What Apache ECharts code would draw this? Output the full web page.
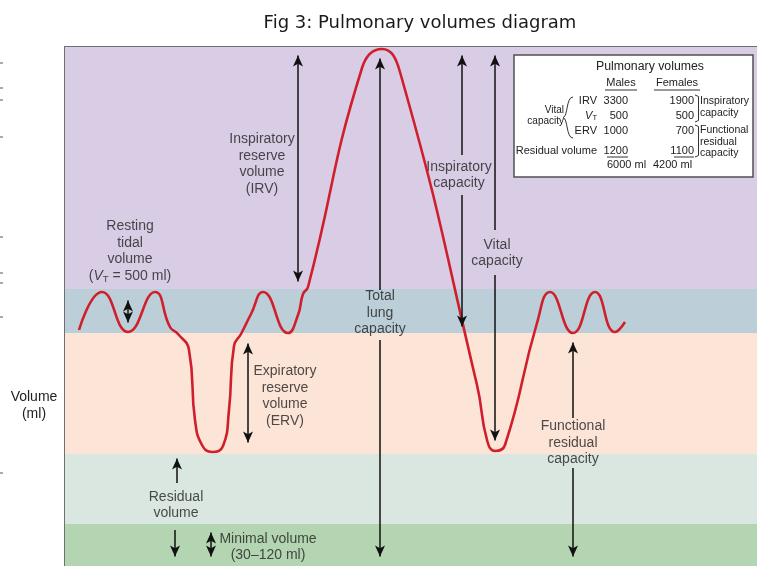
<!DOCTYPE html>
<html lang="en">
<head>
    <meta charset="UTF-8">
    <title>Pulmonary volumes diagram</title>
    <style>
        * {
            margin: 0;
            padding: 0;
            box-sizing: border-box;
        }

        html,
        body {
            width: 100%;
            height: 100%;
            background: #fff;
        }

        .box {
            width: 757px;
            height: 566px;
        }
    </style>
</head>
<body>
    <div class="box"></div>
</body>
<script src="https://cdn.jsdelivr.net/npm/echarts@6.0.0/dist/echarts.min.js"></script>
<script>
    // x = time (diagram units), y = volume level (diagram units, not to scale)

    // breathing trace
    const traceTime = [1.4, 3.7, 6.3, 9.0, 10.5, 11.3, 12.4, 13.0, 13.7, 14.7, 15.8, 16.4, 16.9, 17.6, 18.6, 19.8, 22.3, 23.3, 23.8, 24.3, 29.7, 31.7, 33.5, 41.2, 42.2, 43.0, 44.0, 47.2, 48.5, 50.8, 53.0, 55.0, 56.0];
    const traceLevel = [47.2, 54.8, 46.8, 54.8, 47.8, 46.4, 43.2, 29.2, 24.2, 22.8, 24.0, 31.2, 44.0, 46.4, 50.4, 54.8, 46.6, 50.2, 54.4, 55.8, 99.6, 103.4, 98.8, 36.2, 25.2, 23.0, 24.2, 48.6, 54.8, 46.6, 54.8, 46.8, 48.8];

    // horizontal bands
    const bandNames = ['Minimal volume', 'Residual volume', 'Expiratory reserve volume', 'Tidal volume', 'Inspiratory reserve volume'];
    const bandBottom = [0, 8.4, 22.4, 46.6, 55.4];
    const bandTop = [8.4, 22.4, 46.6, 55.4, 103.8];

    // vertical arrows
    const arrowTime = [6.3, 23.3, 31.5, 31.5, 39.7, 39.7, 43.0, 43.0, 18.3, 11.2, 11.0, 14.6, 50.8, 50.8];
    const arrowFrom = [47.6, 55.8, 55.2, 0.8, 82.2, 46.8, 67.2, 24.0, 23.6, 16.6, 0.8, 0.8, 29.6, 0.8];
    const arrowTo = [54.2, 103.2, 102.6, 45.2, 103.2, 74.2, 103.2, 58.2, 45.6, 22.6, 7.2, 7.8, 45.8, 19.6];
    const arrowHeads = ['both', 'both', 'top', 'bottom', 'top', 'bottom', 'top', 'bottom', 'both', 'top', 'bottom', 'both', 'top', 'bottom'];

    // annotations
    const noteText = [
        'Inspiratory\nreserve\nvolume\n(IRV)',
        'Resting\ntidal\nvolume\n({it|V}{sub|T} = 500 ml)',
        'Inspiratory\ncapacity',
        'Vital\ncapacity',
        'Total\nlung\ncapacity',
        'Expiratory\nreserve\nvolume\n(ERV)',
        'Functional\nresidual\ncapacity',
        'Residual\nvolume',
        'Minimal volume\n(30–120 ml)'
    ];
    const noteTime = [19.7, 6.5, 39.4, 43.2, 31.5, 22.0, 50.8, 11.1, 20.3];
    const noteLevel = [80.4, 63.0, 78.2, 62.6, 50.6, 34.0, 24.6, 12.2, 3.8];

    // table
    const tableRows = ['IRV', '{it|V}{sub|T}', 'ERV', 'Residual volume'];
    const maleVolumes = [3300, 500, 1000, 1200];
    const femaleVolumes = [1900, 500, 700, 1100];

    const font = 'Liberation Sans, Arial, sans-serif';
    const ink = '#222';
    const bandColors = ['#b4d5b1', '#dae7e0', '#fce4d7', '#bccfd9', '#d9cde5'];

    const subRich = {
        it: { fontStyle: 'italic', fontSize: 11, fontFamily: font, fill: ink },
        sub: { fontSize: 7.5, lineHeight: 7, verticalAlign: 'bottom', fontFamily: font, fill: ink }
    };

    let headInset = 1.1; // half an arrowhead
    let arrowLines = arrowTime.map(function (t, i) {
        let h = arrowHeads[i];
        let low = h === 'both' || h === 'bottom';
        let high = h === 'both' || h === 'top';
        return [{
            coord: [t, arrowFrom[i] + (low ? headInset : 0)],
            symbol: low ? 'arrow' : 'none'
        }, {
            coord: [t, arrowTo[i] - (high ? headInset : 0)],
            symbol: high ? 'arrow' : 'none'
        }];
    });

    let bandAreas = bandNames.map(function (n, i) {
        return [{
            name: n,
            yAxis: bandBottom[i],
            itemStyle: { color: bandColors[i], opacity: 1 }
        }, {
            yAxis: bandTop[i]
        }];
    });

    // table graphic
    function txt(text, x, y, align, size, extra) {
        return {
            type: 'text',
            x: x,
            y: y,
            z: 100,
            silent: true,
            style: Object.assign({
                text: text,
                fill: ink,
                fontSize: size,
                fontFamily: font,
                align: align,
                verticalAlign: 'middle',
                textAlign: align,
                textVerticalAlign: 'middle'
            }, extra || {})
        };
    }

    function seg(points, color) {
        return {
            type: 'polyline',
            z: 100,
            silent: true,
            shape: { points: points },
            style: { stroke: color || '#333', lineWidth: 1, fill: null }
        };
    }

    const rowY = [101, 116, 131, 151];
    let table = [{
        type: 'rect',
        z: 99,
        shape: { x: 514, y: 55, width: 239, height: 122 },
        style: { fill: '#fff', stroke: '#505050', lineWidth: 1.5 }
    },
    txt('Pulmonary volumes', 650, 67, 'center', 12.3),
    txt('Males', 621, 83, 'center', 11),
    txt('Females', 677, 83, 'center', 11),
    seg([[605, 90], [637, 90]]),
    seg([[654, 90], [700, 90]])
    ];
    tableRows.forEach(function (r, i) {
        table.push(txt(r, 597, rowY[i], 'right', 11, { rich: subRich }));
        table.push(txt(String(maleVolumes[i]), 628, rowY[i], 'right', 11));
        table.push(txt(String(femaleVolumes[i]), 694, rowY[i], 'right', 11));
    });
    let last = rowY[rowY.length - 1] + 6;
    table.push(seg([[607, last], [628, last]]));
    table.push(seg([[674, last], [694, last]]));
    let sum = function (a) { return a.reduce(function (s, v) { return s + v; }, 0); };
    table.push(txt(sum(maleVolumes) + ' ml', 607, 165, 'left', 11));
    table.push(txt(sum(femaleVolumes) + ' ml', 653, 165, 'left', 11));
    table.push(txt('Vital\ncapacity', 564, 116, 'right', 10, { lineHeight: 11 }));
    table.push({
        type: 'bezierCurve', silent: true, z: 100,
        shape: { x1: 573, y1: 97, cpx1: 566, cpy1: 97, cpx2: 568, cpy2: 117, x2: 563, y2: 117.5 },
        style: { stroke: '#333', lineWidth: 1, fill: null }
    });
    table.push({
        type: 'bezierCurve', silent: true, z: 100,
        shape: { x1: 563, y1: 117.5, cpx1: 568, cpy1: 118, cpx2: 566, cpy2: 138, x2: 573, y2: 138 },
        style: { stroke: '#333', lineWidth: 1, fill: null }
    });
    table.push(seg([[695, 95], [698.5, 96.5], [698.5, 120.5], [695, 122]]));
    table.push(seg([[695, 125], [698.5, 126.5], [698.5, 155.5], [695, 157]]));
    table.push(txt('Inspiratory\ncapacity', 700, 107, 'left', 10.5, { lineHeight: 11.5 }));
    table.push(txt('Functional\nresidual\ncapacity', 700, 142, 'left', 10.5, { lineHeight: 11.5 }));

    // scan marks along the left edge of the source picture
    [63, 88, 100, 137, 237, 273, 283, 317, 473].forEach(function (y) {
        table.push(seg([[0, y], [3, y]], '#555'));
    });

    let chart = echarts.init(document.querySelector('.box'));
    let option = {
        animation: false,
        backgroundColor: '#fff',
        title: [{
            text: 'Fig 3: Pulmonary volumes diagram',
            left: 415,
            top: 9,
            textAlign: 'center',
            textStyle: { fontSize: 18, fontWeight: 'normal', color: '#1a1a1a', fontFamily: 'DejaVu Sans' }
        }, {
            text: 'Volume\n(ml)',
            left: 29,
            top: 384,
            textAlign: 'center',
            textStyle: { fontSize: 14, fontWeight: 'normal', color: ink, lineHeight: 17, fontFamily: font }
        }],
        grid: { left: 65, right: 0, top: 47, bottom: 0 },
        xAxis: {
            type: 'value',
            min: 0,
            max: 69.2,
            position: 'top',
            axisLine: { show: true, onZero: false, lineStyle: { color: '#707070', width: 2 } },
            axisTick: { show: false },
            axisLabel: { show: false },
            splitLine: { show: false }
        },
        yAxis: {
            type: 'value',
            min: 0,
            max: 103.8,
            axisLine: { show: true, lineStyle: { color: '#707070', width: 2 } },
            axisTick: { show: false },
            axisLabel: { show: false },
            splitLine: { show: false }
        },
        graphic: table,
        series: [{
            type: 'line',
            data: [],
            silent: true,
            markArea: {
                silent: true,
                label: { show: false },
                data: bandAreas
            }
        }, {
            type: 'line',
            data: [],
            silent: true,
            markLine: {
                silent: true,
                symbolSize: [7.5, 11],
                label: { show: false },
                lineStyle: { color: '#111', width: 1.5, type: 'solid' },
                itemStyle: { color: '#111' },
                data: arrowLines
            }
        }, {
            type: 'line',
            data: traceTime.map(function (t, i) { return [t, traceLevel[i]]; }),
            smooth: 0.5,
            showSymbol: false,
            silent: true,
            lineStyle: { color: '#d01f2c', width: 2.6 }
        }, {
            type: 'scatter',
            symbolSize: 0,
            silent: true,
            data: noteTime.map(function (t, i) { return [t, noteLevel[i], noteText[i]]; }),
            label: {
                show: true,
                position: 'inside',
                formatter: function (p) { return p.value[2]; },
                color: ink,
                fontSize: 14,
                lineHeight: 16.5,
                fontFamily: font,
                rich: {
                    it: { fontStyle: 'italic', fontSize: 14, color: ink, fontFamily: font },
                    sub: { fontSize: 9.5, lineHeight: 9, verticalAlign: 'bottom', color: ink, fontFamily: font }
                }
            }
        }]
    };
    chart.setOption(option);
</script>
</html>
